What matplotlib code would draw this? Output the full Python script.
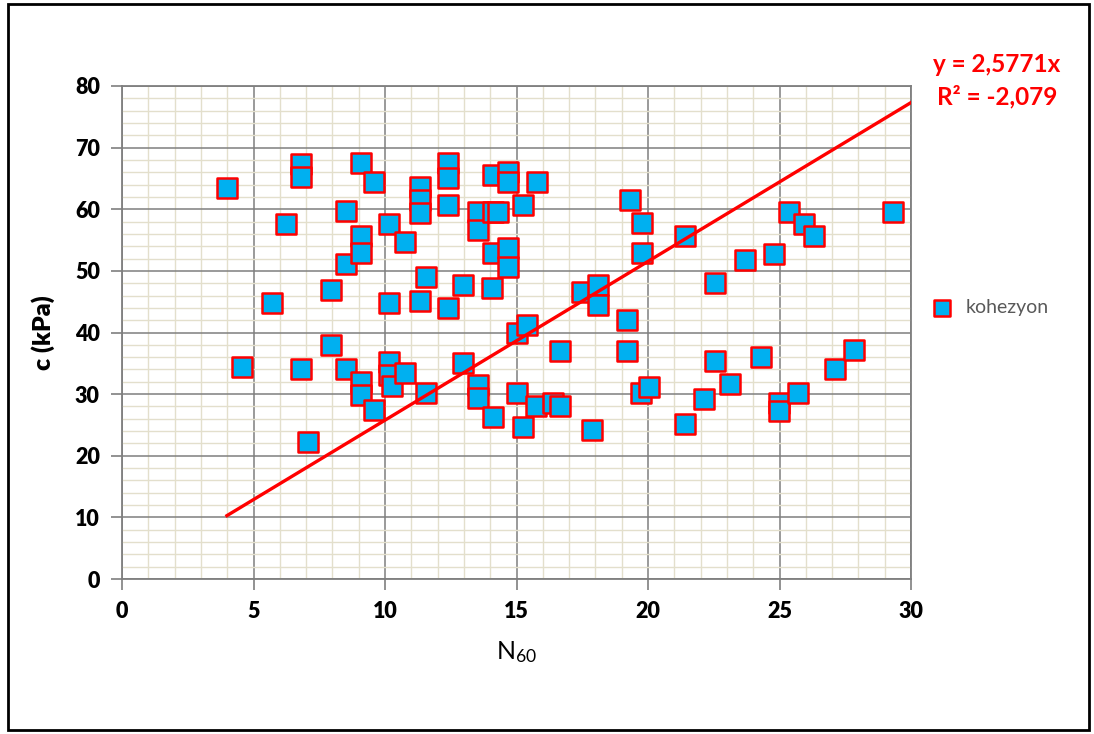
import matplotlib
matplotlib.use("Agg")
import matplotlib.pyplot as plt
from matplotlib.ticker import MultipleLocator
from matplotlib.patches import Rectangle
import numpy as np

plt.rcParams['font.family'] = ['Lato', 'DejaVu Sans']
plt.rcParams['mathtext.fontset'] = 'custom'
plt.rcParams['mathtext.rm'] = 'Lato'

# N60 values and cohesion (kPa)
n60 = [3.99, 4.56, 5.70, 6.24, 6.81, 6.81, 6.81, 7.07, 7.95, 7.95,
       8.52, 8.52, 8.52, 9.09, 9.09, 9.09, 9.09, 9.09, 9.58, 9.58,
       10.15, 10.15, 10.15, 10.15, 10.27, 10.76, 10.76, 11.33, 11.33, 11.33,
       11.33, 11.56, 11.56, 12.40, 12.40, 12.40, 12.40, 12.97, 12.97, 13.54,
       13.54, 13.54, 13.54, 14.11, 14.11, 14.30, 14.11, 14.07, 14.11, 14.68,
       14.68, 14.68, 14.68, 15.02, 15.40, 15.02, 15.25, 15.25, 15.78, 15.74,
       16.39, 16.65, 16.65, 17.49, 17.87, 18.10, 18.10, 19.20, 19.20, 19.32,
       19.77, 19.77, 19.73, 20.04, 21.41, 21.41, 22.13, 22.55, 22.55, 23.12,
       23.69, 24.30, 24.79, 24.98, 24.98, 25.36, 25.70, 25.93, 26.31, 27.11,
       27.83, 29.32]
cohesion = [63.4, 34.4, 44.8, 57.6, 67.3, 65.2, 34.1, 22.2, 46.9, 38.0,
            59.7, 51.1, 34.1, 67.5, 55.7, 52.9, 32.0, 29.9, 64.4, 27.4,
            57.6, 44.8, 35.2, 33.1, 31.3, 54.7, 33.4, 63.6, 61.5, 59.4,
            45.1, 49.0, 30.2, 67.5, 65.1, 60.7, 44.0, 47.7, 35.1, 59.6,
            56.6, 31.5, 29.4, 65.6, 59.6, 59.6, 52.9, 47.2, 26.3, 66.0,
            64.4, 53.7, 50.6, 39.9, 41.2, 30.2, 60.7, 24.7, 64.4, 28.1,
            28.6, 37.0, 28.1, 46.6, 24.2, 47.7, 44.5, 42.0, 37.0, 61.5,
            57.8, 52.9, 30.2, 31.2, 55.7, 25.2, 29.2, 48.0, 35.4, 31.6,
            51.8, 36.0, 52.7, 28.6, 27.3, 59.6, 30.2, 57.6, 55.7, 34.1,
            37.2, 59.6]

slope = 2.5771
r2_text = "R² = -2,079"

fig = plt.figure(figsize=(10.94, 7.34), dpi=100)
ax = fig.add_axes([122 / 1094, 155 / 734, 789 / 1094, 493 / 734])

# outer chart border
fig.patches.append(Rectangle((8 / 1094, 4 / 734), 1081 / 1094, 726 / 734,
                             transform=fig.transFigure, fill=False,
                             edgecolor='black', linewidth=2))

ax.scatter(n60, cohesion, marker='s', s=210, facecolor='#00b0f0',
           edgecolor='#ff0000', linewidth=1.8, zorder=3, label='kohezyon')

xs = np.array([min(n60), 30])
ax.plot(xs, slope * xs, color='#ff0000', linewidth=2.4, zorder=4)

ax.set_xlim(0, 30)
ax.set_ylim(0, 80)
ax.xaxis.set_major_locator(MultipleLocator(5))
ax.xaxis.set_minor_locator(MultipleLocator(1))
ax.yaxis.set_major_locator(MultipleLocator(10))
ax.yaxis.set_minor_locator(MultipleLocator(2))

ax.grid(which='minor', color='#e3dfcc', linewidth=1.0, zorder=0)
ax.grid(which='major', color='#7f7f7f', linewidth=1.1, zorder=1)
ax.set_axisbelow(True)

for s in ax.spines.values():
    s.set_color('#7f7f7f')
    s.set_linewidth(1.3)

ax.tick_params(which='major', length=8, width=1.2, color='#7f7f7f',
               labelsize=15.5, pad=8)
ax.tick_params(which='minor', length=0)
for lab in ax.get_xticklabels() + ax.get_yticklabels():
    lab.set_fontweight('heavy')

ax.set_xlabel(r'$\mathregular{N_{60}}$', fontsize=18, labelpad=12)
ax.set_ylabel('c (kPa)', fontsize=18, fontweight='heavy', labelpad=14)

fig.text(997 / 1094, 1 - 65 / 734, 'y = 2,5771x', color='#ff0000',
         fontsize=17.5, fontweight='bold', ha='center', va='center')
fig.text(997 / 1094, 1 - 97 / 734, r2_text, color='#ff0000',
         fontsize=17.5, fontweight='bold', ha='center', va='center')

leg = ax.legend(loc='center left', bbox_to_anchor=(1.005, 0.5502),
                frameon=False, fontsize=14, handletextpad=0.2,
                markerscale=0.75, borderaxespad=0)
for t in leg.get_texts():
    t.set_color('#595959')

fig.savefig('out.png', dpi=100)
